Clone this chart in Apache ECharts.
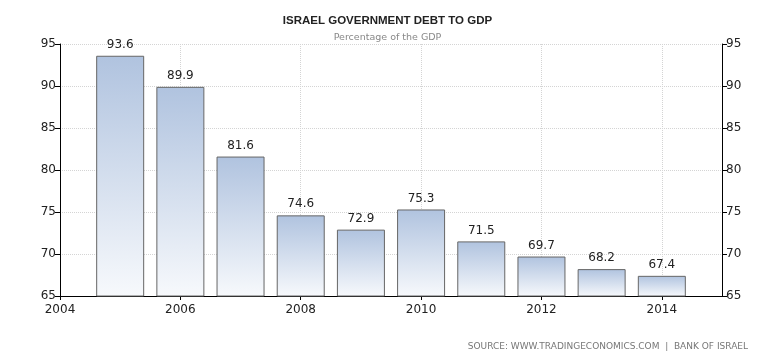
<!DOCTYPE html>
<html><head><meta charset="utf-8">
<script src="https://cdn.jsdelivr.net/npm/echarts@6/dist/echarts.min.js"></script>
<style>html,body{margin:0;padding:0;background:#fff}#c{width:775px;height:355px}</style>
</head><body><div id="c"></div>
<script>
const years = [2005, 2006, 2007, 2008, 2009, 2010, 2011, 2012, 2013, 2014];
const debt = [93.6, 89.9, 81.6, 74.6, 72.9, 75.3, 71.5, 69.7, 68.2, 67.4];
const xTicks = [2004, 2006, 2008, 2010, 2012, 2014];
const titleText = 'ISRAEL GOVERNMENT DEBT TO GDP';
const subtitleText = 'Percentage of the GDP';
const sourceText = 'SOURCE: WWW.TRADINGECONOMICS.COM  |  BANK OF ISRAEL';

const font = '"DejaVu Sans", Verdana, sans-serif';
const chart = echarts.init(document.getElementById('c'));
const yAxisCommon = {
  type: 'value', min: 65, max: 95, interval: 5,
  axisLine: {show: true, lineStyle: {color: '#000', width: 1}},
  axisTick: {show: true, length: 5, lineStyle: {color: '#000'}},
  axisLabel: {color: '#222', fontFamily: font, fontSize: 12, margin: 4},
};
chart.setOption({
  animation: false,
  title: [
    {text: titleText, left: 'center', top: 10, textStyle: {fontFamily: '"Liberation Sans", Arial, sans-serif', fontSize: 11.5, fontWeight: 'bold', color: '#222'}},
    {text: subtitleText, left: 'center', top: 28, textStyle: {fontFamily: font, fontSize: 9.5, fontWeight: 'normal', color: '#888'}},
    {text: sourceText, right: 22, top: 337, textStyle: {fontFamily: font, fontSize: 9, fontWeight: 'normal', color: '#777'}}
  ],
  grid: {left: 60, right: 53, top: 44, bottom: 59},
  xAxis: {
    type: 'value', min: 2004, max: 2015, interval: 2,
    axisLine: {show: true, onZero: false, lineStyle: {color: '#000'}},
    axisTick: {show: true, length: 4, customValues: xTicks, lineStyle: {color: '#000'}},
    axisLabel: {color: '#222', fontFamily: font, fontSize: 12, margin: 8, customValues: xTicks,
      formatter: v => String(v)},
    splitLine: {show: true, lineStyle: {color: '#d4d4d4', type: 'dotted'}}
  },
  yAxis: [
    Object.assign({}, yAxisCommon, {position: 'left', splitLine: {show: true, lineStyle: {color: '#d4d4d4', type: 'dotted'}}}),
    Object.assign({}, yAxisCommon, {position: 'right', splitLine: {show: false}})
  ],
  series: [{
    type: 'bar',
    yAxisIndex: 0,
    barWidth: 48,
    data: years.map((y, i) => [y, debt[i]]),
    itemStyle: {
      borderColor: '#666', borderWidth: 1,
      color: new echarts.graphic.LinearGradient(0, 0, 0, 1, [
        {offset: 0, color: '#b0c3df'},
        {offset: 1, color: '#f7f9fc'}
      ])
    },
    label: {show: true, position: 'top', distance: 5, color: '#222', fontFamily: font, fontSize: 12,
      formatter: p => p.value[1].toFixed(1)}
  }]
});
</script></body></html>
